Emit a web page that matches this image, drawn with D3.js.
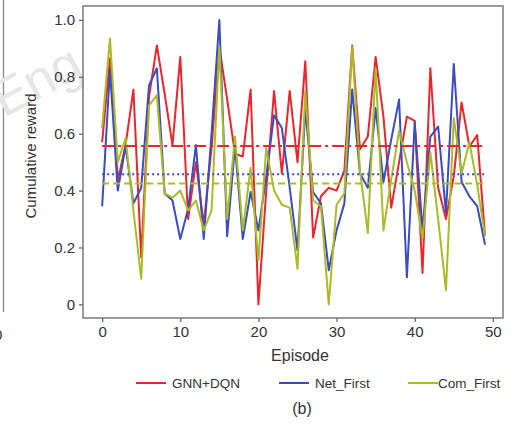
<!DOCTYPE html>
<html lang="en">
<head>
<meta charset="UTF-8">
<script src="https://d3js.org/d3.v7.min.js"></script>
<style>
  body { margin: 0; background: #fff; }
  svg { display: block; font-family: "Liberation Sans", Arial, sans-serif; }
  .axis text { font-size: 15px; fill: #333; }
  .axis path, .axis line { stroke: #666; stroke-width: 1.3px; }
</style>
</head>
<body>
<div class="chart"></div>
<script>
  const width = 528, height = 424

  // values
  const episodes = d3.range(0, 50)
  const gnnDqn = [0.57, 0.865, 0.435, 0.56, 0.755, 0.165, 0.73, 0.91, 0.74, 0.56,
    0.87, 0.30, 0.50, 0.28, 0.55, 0.905, 0.72, 0.53, 0.52, 0.755,
    0.0, 0.40, 0.75, 0.46, 0.75, 0.50, 0.855, 0.235, 0.38, 0.41,
    0.40, 0.47, 0.91, 0.545, 0.59, 0.87, 0.66, 0.34, 0.50, 0.66,
    0.645, 0.11, 0.83, 0.41, 0.30, 0.45, 0.71, 0.555, 0.595, 0.24]
  const netFirst = [0.345, 0.825, 0.40, 0.555, 0.355, 0.41, 0.77, 0.83, 0.39, 0.365,
    0.23, 0.335, 0.56, 0.23, 0.60, 1.0, 0.24, 0.555, 0.23, 0.395,
    0.26, 0.45, 0.665, 0.62, 0.41, 0.19, 0.685, 0.395, 0.355, 0.12,
    0.26, 0.355, 0.755, 0.46, 0.41, 0.69, 0.43, 0.58, 0.72, 0.095,
    0.64, 0.26, 0.59, 0.625, 0.32, 0.845, 0.43, 0.38, 0.345, 0.21]
  const comFirst = [0.62, 0.935, 0.50, 0.585, 0.33, 0.09, 0.70, 0.735, 0.39, 0.375,
    0.40, 0.33, 0.365, 0.26, 0.33, 0.905, 0.30, 0.59, 0.26, 0.48,
    0.155, 0.55, 0.40, 0.35, 0.34, 0.125, 0.75, 0.365, 0.345, 0.0,
    0.35, 0.39, 0.905, 0.47, 0.25, 0.83, 0.26, 0.44, 0.61, 0.50,
    0.40, 0.23, 0.535, 0.30, 0.05, 0.655, 0.46, 0.57, 0.42, 0.24]
  const meanValues = [0.557, 0.457, 0.425]
  const seriesNames = ['GNN+DQN', 'Net_First', 'Com_First']
  const xTicks = [0, 10, 20, 30, 40, 50]
  const yTicks = [0, 0.2, 0.4, 0.6, 0.8, 1.0]

  const colors = ['#e8262d', '#3b4cc0', '#a9bb26']
  const dashes = ['12,4,3,4', '2,3', '7,4']
  const allSeries = [gnnDqn, netFirst, comFirst]

  const plotLeft = 83, plotRight = 503, plotTop = 6, plotBottom = 318

  const svg = d3.select('.chart')
    .append('svg')
    .attr('width', width)
    .attr('height', height)

  // edge of the neighbouring panel on the left
  svg.append('line')
    .attr('x1', 3.5).attr('x2', 3.5).attr('y1', 0).attr('y2', 312)
    .attr('stroke', '#888').attr('stroke-width', 1.3)
  svg.append('text')
    .attr('x', -6).attr('y', 340)
    .attr('font-size', 15).attr('fill', '#333')
    .text('0')

  // faint watermark
  svg.append('text')
    .attr('transform', 'translate(4,118) rotate(-28)')
    .attr('font-size', 52)
    .attr('fill', '#e6e6e6')
    .text('Eng')

  const x = d3.scaleLinear().domain([-2.45, 51.3]).range([plotLeft, plotRight])
  const y = d3.scaleLinear().domain([-0.048, 1.049]).range([plotBottom, plotTop])

  svg.append('rect')
    .attr('x', plotLeft).attr('y', plotTop)
    .attr('width', plotRight - plotLeft).attr('height', plotBottom - plotTop)
    .attr('fill', 'none')
    .attr('stroke', '#666')
    .attr('stroke-width', 1.3)

  svg.append('g')
    .attr('class', 'axis')
    .attr('transform', `translate(${plotLeft},0)`)
    .call(d3.axisLeft(y).tickValues(yTicks).tickSize(4).tickPadding(4)
      .tickFormat(d => d === 0 ? '0' : d3.format('.1f')(d)))
    .call(g => g.select('.domain').remove())

  svg.append('g')
    .attr('class', 'axis')
    .attr('transform', `translate(0,${plotBottom})`)
    .call(d3.axisBottom(x).tickValues(xTicks).tickSize(4).tickPadding(4))
    .call(g => g.select('.domain').remove())

  const line = d3.line()
    .x((d, i) => x(episodes[i]))
    .y(d => y(d))

  allSeries.forEach((s, k) => {
    svg.append('path')
      .datum(s)
      .attr('fill', 'none')
      .attr('stroke', colors[k])
      .attr('stroke-width', 2)
      .attr('stroke-linejoin', 'round')
      .attr('d', line)
  })

  // mean lines
  meanValues.forEach((m, k) => {
    svg.append('line')
      .attr('x1', x(episodes[0])).attr('x2', x(episodes[episodes.length - 1]))
      .attr('y1', y(m)).attr('y2', y(m))
      .attr('stroke', colors[k])
      .attr('stroke-width', 2)
      .attr('stroke-dasharray', dashes[k])
  })

  svg.append('text')
    .attr('transform', `translate(36,${(plotTop + plotBottom) / 2 - 6}) rotate(-90)`)
    .attr('text-anchor', 'middle')
    .attr('font-size', 15).attr('fill', '#333')
    .text('Cumulative reward')

  svg.append('text')
    .attr('x', 300).attr('y', 361)
    .attr('text-anchor', 'middle')
    .attr('font-size', 16).attr('fill', '#333')
    .text('Episode')

  // legend
  const legendX = [136, 279, 408]
  const legend = svg.append('g')
  seriesNames.forEach((n, k) => {
    legend.append('line')
      .attr('x1', legendX[k]).attr('x2', legendX[k] + 30)
      .attr('y1', 383).attr('y2', 383)
      .attr('stroke', colors[k]).attr('stroke-width', 2)
    legend.append('text')
      .attr('x', legendX[k] + (k === 2 ? 30 : 36)).attr('y', 388)
      .attr('font-size', 13.5).attr('fill', '#333')
      .text(n)
  })

  svg.append('text')
    .attr('x', 302).attr('y', 414)
    .attr('text-anchor', 'middle')
    .attr('font-size', 16).attr('fill', '#333')
    .text('(b)')
</script>
</body>
</html>
